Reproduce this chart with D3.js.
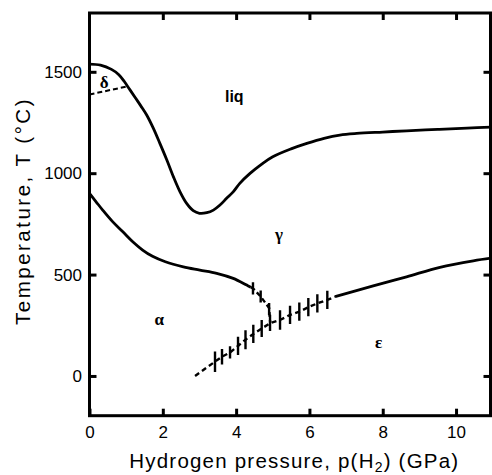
<!DOCTYPE html>
<html>
<head>
<meta charset="utf-8">
<script src="https://cdn.jsdelivr.net/npm/d3@7"></script>
<style>
  html, body { margin: 0; padding: 0; background: #fff; }
  svg { display: block; }
</style>
</head>
<body>
<svg id="chart" width="492" height="475"></svg>
<script>
// ---------------- data ----------------
const xTicks = [0, 2, 4, 6, 8, 10];
const yTicks = [0, 500, 1000, 1500];

// liquidus
const liquidusP = [0, 0.3, 0.6, 0.8, 0.95, 1.1, 1.25, 1.4, 1.56, 1.74, 1.92, 2.11, 2.29, 2.47, 2.65, 2.83, 3.0, 3.2, 3.38, 3.56, 3.74, 3.92, 4.1, 4.38, 4.7, 5.0, 5.5, 5.93, 6.4, 6.83, 7.29, 8.0, 8.65, 9.5, 10.3, 11];
const liquidusT = [1538, 1533, 1512, 1486, 1452, 1412, 1372, 1332, 1287, 1222, 1147, 1065, 982, 908, 851, 815, 802, 805, 818, 843, 876, 908, 950, 999, 1045, 1081, 1120, 1147, 1172, 1188, 1196, 1203, 1209, 1216, 1222, 1228];

// delta / gamma boundary (dashed)
const deltaP = [0, 1.03];
const deltaT = [1388, 1428];

// alpha / gamma boundary (solid part)
const alphaGammaP = [0, 0.18, 0.36, 0.63, 0.91, 1.18, 1.45, 1.72, 2.07, 2.56, 3.01, 3.47, 3.92, 4.29, 4.4];
const alphaGammaT = [900, 859, 818, 761, 711, 662, 621, 590, 563, 538, 522, 506, 481, 448, 438];
// alpha / gamma boundary (dashed part, with error bars)
const alphaGammaDashP = [4.4, 4.46, 4.67, 4.9, 4.93];
const alphaGammaDashT = [438, 432, 392, 335, 262];
const alphaGammaErrP = [4.46, 4.67, 4.9];
const alphaGammaErrT = [432, 392, 330];
const alphaGammaErr = [30, 30, 30];

// alpha / epsilon and gamma / epsilon boundary (dashed, with error bars)
const epsDashP = [2.88, 3.42, 3.615, 3.834, 4.052, 4.256, 4.469, 4.698, 4.925, 5.198, 5.471, 5.724, 5.97, 6.216, 6.488, 6.7];
const epsDashT = [0, 70, 95, 116, 148, 179, 207, 234, 260, 276, 301, 317, 339, 358, 375, 391];
const epsErrP = [3.424, 3.615, 3.834, 4.052, 4.256, 4.469, 4.698, 4.925, 5.198, 5.471, 5.724, 5.97, 6.216, 6.488];
const epsErrT = [70, 95, 116, 148, 179, 207, 234, 262, 276, 301, 317, 339, 358, 375];
const epsErr = [50, 38, 30, 45, 47, 45, 42, 40, 48, 45, 45, 45, 45, 45];

// gamma / epsilon boundary (solid part)
const gammaEpsP = [6.7, 7.74, 8.65, 9.56, 10.47, 11];
const gammaEpsT = [391, 444, 489, 536, 568, 582];

// phase labels
const phaseNames = ["liq", "δ", "γ", "α", "ε"];
const phaseP = [3.95, 0.40, 5.17, 1.90, 7.89];
const phaseT = [1352, 1420, 670, 251, 137];

// ---------------- chart ----------------
const svg = d3.select("#chart");
const mLeft = 89.5, mRight = 490.5, mTop = 13, mBottom = 415.7;

const x = d3.scaleLinear().domain([0, 10.94]).range([mLeft, mRight]);
const y = d3.scaleLinear().domain([-196, 1790]).range([mBottom, mTop]);

const zip = (a, b) => a.map((v, i) => [v, b[i]]);
const line = d3.line().x(d => x(d[0])).y(d => y(d[1]));
const smooth = d3.line().x(d => x(d[0])).y(d => y(d[1])).curve(d3.curveCatmullRom.alpha(0.5));

svg.append("defs").append("clipPath").attr("id", "clip")
  .append("rect").attr("x", mLeft).attr("y", mTop)
  .attr("width", mRight - mLeft).attr("height", mBottom - mTop);

const g = svg.append("g").attr("clip-path", "url(#clip)");

const curveW = 2.8;

// liquidus
g.append("path").attr("d", smooth(zip(liquidusP, liquidusT)))
  .attr("fill", "none").attr("stroke", "#000").attr("stroke-width", curveW);

// delta dashed
g.append("path").attr("d", line(zip(deltaP, deltaT)))
  .attr("fill", "none").attr("stroke", "#000").attr("stroke-width", 2)
  .attr("stroke-dasharray", "5,3");

// alpha/gamma
g.append("path").attr("d", smooth(zip(alphaGammaP, alphaGammaT)))
  .attr("fill", "none").attr("stroke", "#000").attr("stroke-width", curveW);
g.append("path").attr("d", line(zip(alphaGammaDashP, alphaGammaDashT)))
  .attr("fill", "none").attr("stroke", "#000").attr("stroke-width", 2.4)
  .attr("stroke-dasharray", "5,3");

// eps boundary dashed
g.append("path").attr("d", line(zip(epsDashP, epsDashT)))
  .attr("fill", "none").attr("stroke", "#000").attr("stroke-width", 2.4)
  .attr("stroke-dasharray", "5,3.5");

// gamma/eps solid
g.append("path").attr("d", smooth(zip(gammaEpsP, gammaEpsT)))
  .attr("fill", "none").attr("stroke", "#000").attr("stroke-width", curveW);

// error bars
function bars(P, T, E) {
  g.selectAll(null).data(P.map((p, i) => ({p, t: T[i], e: E[i]}))).enter()
    .append("line")
    .attr("x1", d => x(d.p)).attr("x2", d => x(d.p))
    .attr("y1", d => y(d.t - d.e)).attr("y2", d => y(d.t + d.e))
    .attr("stroke", "#000").attr("stroke-width", 2.4);
}
bars(epsErrP, epsErrT, epsErr);
bars(alphaGammaErrP, alphaGammaErrT, alphaGammaErr);

// axes (ticks inward)
const font = "'Liberation Sans', Arial, Helvetica, sans-serif";
const tickLen = 7;
function styleAxis(sel) {
  sel.select(".domain").remove();
  sel.selectAll(".tick line").attr("stroke", "#000").attr("stroke-width", 3);
  sel.selectAll(".tick text").attr("font-family", font).attr("font-size", 17).attr("fill", "#000");
}
svg.append("g").attr("transform", `translate(0,${mBottom})`)
  .call(d3.axisBottom(x).tickValues(xTicks).tickSize(-tickLen).tickPadding(10.2).tickFormat(d3.format("d")))
  .call(styleAxis);
svg.append("g").attr("transform", `translate(0,${mTop})`)
  .call(d3.axisTop(x).tickValues(xTicks.filter(v => v > 0)).tickSize(-tickLen).tickFormat(""))
  .call(styleAxis);
svg.append("g").attr("transform", `translate(${mLeft},0)`)
  .call(d3.axisLeft(y).tickValues(yTicks).tickSize(-tickLen).tickPadding(7.5).tickFormat(d3.format("d")))
  .call(styleAxis);
svg.append("g").attr("transform", `translate(${mRight},0)`)
  .call(d3.axisRight(y).tickValues(yTicks).tickSize(-tickLen).tickFormat(""))
  .call(styleAxis);

// frame
svg.append("rect").attr("x", mLeft).attr("y", mTop)
  .attr("width", mRight - mLeft).attr("height", mBottom - mTop)
  .attr("fill", "none").attr("stroke", "#000").attr("stroke-width", 3);

// phase labels
svg.selectAll(null).data(phaseNames.map((n, i) => ({n, p: phaseP[i], t: phaseT[i]}))).enter()
  .append("text")
  .attr("x", d => x(d.p)).attr("y", d => y(d.t))
  .attr("text-anchor", "middle")
  .attr("font-family", d => d.n === "liq" ? font : "'Liberation Serif', 'DejaVu Serif', serif")
  .attr("font-weight", "bold")
  .attr("font-size", d => d.n === "liq" ? 16 : 17)
  .text(d => d.n);

// axis titles
function fitText(t, target) {
  const len = t.node().getComputedTextLength();
  const n = t.text().length;
  t.attr("letter-spacing", ((target - len) / n).toFixed(2));
}
const xt = svg.append("text")
  .attr("x", 294.3).attr("y", 467.5)
  .attr("text-anchor", "middle")
  .attr("font-family", font).attr("font-size", 20.5);
xt.append("tspan").text("Hydrogen pressure, p(H");
xt.append("tspan").attr("font-size", 14).attr("dy", 4).text("2");
xt.append("tspan").attr("dy", -4).text(") (GPa)");
fitText(xt, 330);

const yt = svg.append("text")
  .attr("transform", "translate(29.5,211) rotate(-90)")
  .attr("text-anchor", "middle")
  .attr("font-family", font).attr("font-size", 20.5)
  .text("Temperature, T (°C)");
fitText(yt, 228);
</script>
</body>
</html>
